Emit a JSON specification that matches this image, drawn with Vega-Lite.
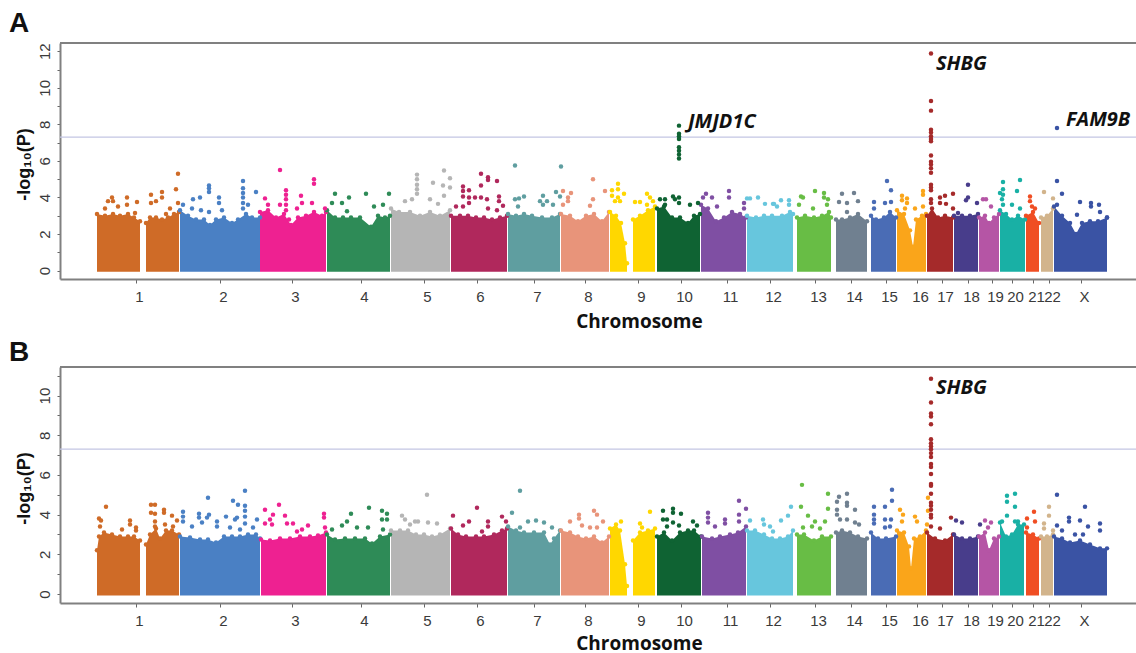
{"$schema":"https://vega.github.io/schema/vega-lite/v6.json","autosize":{"type":"pad"},"padding":{"left":9,"top":10,"right":0,"bottom":0},"background":"white","bounds":"flush","spacing":88,
"config":{"view":{"stroke":null},"font":"Liberation Sans","axis":{"grid":false,"domainColor":"#808080","domainWidth":2,"tickColor":"#666666","labelColor":"#3a3a3a"}},
"datasets":{
"massA":[{"c":"1","x":97,"y":3.1},{"c":"1","x":105,"y":3},{"c":"1","x":113,"y":3.1},{"c":"1","x":120,"y":3},{"c":"1","x":128,"y":3.1},{"c":"1","x":134,"y":2.9},{"c":"1","x":140,"y":2.7},{"c":"1","a":"q","x":146,"y":2.6},{"c":"1","a":"q","x":150,"y":2.9},{"c":"1","a":"q","x":156,"y":2.9},{"c":"1","a":"q","x":162,"y":2.8},{"c":"1","a":"q","x":168,"y":2.9},{"c":"1","a":"q","x":174,"y":3.1},{"c":"1","a":"q","x":179,"y":3.2},
{"c":"2","x":180,"y":3.3},{"c":"2","x":188,"y":3},{"c":"2","x":196,"y":2.8},{"c":"2","x":204,"y":2.8},{"c":"2","x":210,"y":2.5},{"c":"2","x":216,"y":2.8},{"c":"2","x":224,"y":2.9},{"c":"2","x":232,"y":2.6},{"c":"2","x":238,"y":2.8},{"c":"2","x":246,"y":3.1},{"c":"2","x":252,"y":2.9},{"c":"2","x":260,"y":2.9},
{"c":"3","x":260,"y":3.2},{"c":"3","x":268,"y":3.3},{"c":"3","x":276,"y":2.9},{"c":"3","x":284,"y":3.1},{"c":"3","x":291,"y":2.5},{"c":"3","x":298,"y":2.9},{"c":"3","x":306,"y":3},{"c":"3","x":314,"y":3.2},{"c":"3","x":322,"y":3},{"c":"3","x":326,"y":3.2},
{"c":"4","x":327,"y":3.3},{"c":"4","x":335,"y":2.9},{"c":"4","x":343,"y":2.9},{"c":"4","x":351,"y":2.9},{"c":"4","x":360,"y":2.9},{"c":"4","x":371,"y":2.4},{"c":"4","x":378,"y":3},{"c":"4","x":385,"y":2.9},{"c":"4","x":390,"y":3},
{"c":"5","x":391,"y":3.4},{"c":"5","x":399,"y":3.2},{"c":"5","x":410,"y":3.2},{"c":"5","x":420,"y":3},{"c":"5","x":430,"y":3.2},{"c":"5","x":440,"y":3},{"c":"5","x":450,"y":3.3},
{"c":"6","x":451,"y":3},{"c":"6","x":460,"y":3},{"c":"6","x":468,"y":3},{"c":"6","x":476,"y":2.9},{"c":"6","x":484,"y":2.9},{"c":"6","x":492,"y":2.8},{"c":"6","x":500,"y":2.9},{"c":"6","x":507,"y":3},
{"c":"7","x":508,"y":3.1},{"c":"7","x":516,"y":3},{"c":"7","x":524,"y":3.1},{"c":"7","x":532,"y":3},{"c":"7","x":542,"y":2.9},{"c":"7","x":552,"y":2.9},{"c":"7","x":560,"y":3.1},
{"c":"8","x":561,"y":3.1},{"c":"8","x":570,"y":3},{"c":"8","x":578,"y":2.7},{"c":"8","x":586,"y":3},{"c":"8","x":594,"y":3.1},{"c":"8","x":602,"y":2.7},{"c":"8","x":609,"y":3.2},
{"c":"9","x":610,"y":3.2},{"c":"9","x":616,"y":3},{"c":"9","x":621,"y":2.6},{"c":"9","x":625,"y":1.5},{"c":"9","x":627,"y":0.4},{"c":"9","a":"q","x":633,"y":2.8},{"c":"9","a":"q","x":640,"y":3},{"c":"9","a":"q","x":648,"y":3.3},{"c":"9","a":"q","x":655,"y":3.5},
{"c":"10","x":657,"y":3.4},{"c":"10","x":664,"y":3.5},{"c":"10","x":672,"y":2.9},{"c":"10","x":680,"y":2.9},{"c":"10","x":688,"y":2.6},{"c":"10","x":694,"y":3},{"c":"10","x":700,"y":3.1},
{"c":"11","x":701,"y":3.6},{"c":"11","x":708,"y":3.4},{"c":"11","x":716,"y":2.7},{"c":"11","x":724,"y":2.9},{"c":"11","x":732,"y":3.2},{"c":"11","x":740,"y":3.1},{"c":"11","x":746,"y":2.9},
{"c":"12","x":747,"y":3},{"c":"12","x":756,"y":2.9},{"c":"12","x":764,"y":3},{"c":"12","x":772,"y":3},{"c":"12","x":782,"y":3},{"c":"12","x":790,"y":3.2},{"c":"12","x":793,"y":3.1},
{"c":"13","x":797,"y":2.9},{"c":"13","x":805,"y":3},{"c":"13","x":814,"y":2.9},{"c":"13","x":822,"y":3},{"c":"13","x":829,"y":3.2},{"c":"13","x":831,"y":2.9},
{"c":"14","x":836,"y":2.8},{"c":"14","x":842,"y":2.8},{"c":"14","x":850,"y":2.9},{"c":"14","x":858,"y":3.1},{"c":"14","x":867,"y":2.7},
{"c":"15","x":871,"y":3},{"c":"15","x":876,"y":2.8},{"c":"15","x":884,"y":2.9},{"c":"15","x":890,"y":3.2},{"c":"15","x":896,"y":2.9},
{"c":"16","x":897,"y":3.3},{"c":"16","x":904,"y":3.1},{"c":"16","x":910,"y":2.2},{"c":"16","x":913,"y":1.3},{"c":"16","x":916,"y":2.8},{"c":"16","x":922,"y":3},{"c":"16","x":926,"y":3.1},
{"c":"17","x":927,"y":3},{"c":"17","x":932,"y":3.4},{"c":"17","x":938,"y":2.9},{"c":"17","x":945,"y":3},{"c":"17","x":953,"y":2.9},
{"c":"18","x":954,"y":3},{"c":"18","x":962,"y":3},{"c":"18","x":970,"y":3},{"c":"18","x":978,"y":3.1},
{"c":"19","x":979,"y":2.9},{"c":"19","x":985,"y":3},{"c":"19","x":989,"y":2.6},{"c":"19","x":994,"y":2.9},{"c":"19","x":999,"y":3.1},
{"c":"20","x":1000,"y":3.3},{"c":"20","x":1006,"y":3.1},{"c":"20","x":1012,"y":2.8},{"c":"20","x":1018,"y":3},{"c":"20","x":1025,"y":2.8},
{"c":"21","x":1026,"y":3},{"c":"21","x":1033,"y":3.2},{"c":"21","x":1039,"y":2.6},
{"c":"22","x":1041,"y":2.9},{"c":"22","x":1047,"y":3},{"c":"22","x":1053,"y":3.4},
{"c":"X","x":1054,"y":3.5},{"c":"X","x":1062,"y":3},{"c":"X","x":1070,"y":2.6},{"c":"X","x":1076,"y":2},{"c":"X","x":1082,"y":2.6},{"c":"X","x":1090,"y":2.7},{"c":"X","x":1098,"y":2.7},{"c":"X","x":1107,"y":2.9}],
"dotsA":[{"c":"1","x":112,"y":4},{"c":"1","x":108,"y":3.8},{"c":"1","x":113,"y":3.8},{"c":"1","x":105,"y":3.4},{"c":"1","x":118,"y":3.5},{"c":"1","x":127,"y":4},{"c":"1","x":127,"y":3.6},{"c":"1","x":137,"y":3.75},{"c":"1","x":135,"y":3.15},{"c":"1","x":151,"y":4.15},{"c":"1","x":151,"y":3.7},{"c":"1","x":156,"y":3.8},{"c":"1","x":162,"y":4.3},{"c":"1","x":162,"y":4},{"c":"1","x":166,"y":3.1},{"c":"1","x":170,"y":3.4},{"c":"1","x":176,"y":4.45},{"c":"1","x":178,"y":5.3},{"c":"1","x":178,"y":3.7},
{"c":"2","x":183,"y":3.6},{"c":"2","x":193,"y":3.9},{"c":"2","x":200,"y":4},{"c":"2","x":192,"y":3.4},{"c":"2","x":201,"y":3.3},{"c":"2","x":209,"y":4.65},{"c":"2","x":209,"y":4.5},{"c":"2","x":209,"y":4.3},{"c":"2","x":209,"y":3.2},{"c":"2","x":219,"y":4},{"c":"2","x":219,"y":3.7},{"c":"2","x":222,"y":3.3},{"c":"2","x":243,"y":4.9},{"c":"2","x":243,"y":4.5},{"c":"2","x":243,"y":4.25},{"c":"2","x":243,"y":4},{"c":"2","x":243,"y":3.7},{"c":"2","x":243,"y":3.4},{"c":"2","x":248,"y":3.6},{"c":"2","x":256,"y":4.3},
{"c":"3","x":265,"y":3.95},{"c":"3","x":268,"y":3.6},{"c":"3","x":280,"y":5.5},{"c":"3","x":286,"y":4.4},{"c":"3","x":286,"y":4.15},{"c":"3","x":286,"y":3.9},{"c":"3","x":286,"y":3.6},{"c":"3","x":280,"y":3.6},{"c":"3","x":286,"y":3.3},{"c":"3","x":289,"y":2.8},{"c":"3","x":301,"y":4.1},{"c":"3","x":302,"y":3.7},{"c":"3","x":297,"y":3.4},{"c":"3","x":314,"y":5},{"c":"3","x":314,"y":4.75},{"c":"3","x":312,"y":3.7},{"c":"3","x":325,"y":3.4},
{"c":"4","x":335,"y":4.2},{"c":"4","x":332,"y":3.7},{"c":"4","x":342,"y":3.7},{"c":"4","x":349,"y":4},{"c":"4","x":347,"y":3.25},{"c":"4","x":366,"y":4.2},{"c":"4","x":374,"y":3.5},{"c":"4","x":383,"y":3.6},{"c":"4","x":389,"y":4.2},
{"c":"5","x":417,"y":5.25},{"c":"5","x":417,"y":5},{"c":"5","x":417,"y":4.7},{"c":"5","x":417,"y":4.45},{"c":"5","x":417,"y":4.2},{"c":"5","x":444,"y":5.47},{"c":"5","x":450,"y":5.05},{"c":"5","x":433,"y":4.8},{"c":"5","x":443,"y":4.65},{"c":"5","x":450,"y":4.55},{"c":"5","x":444,"y":4.1},{"c":"5","x":438,"y":3.65},{"c":"5","x":430,"y":3.9},{"c":"5","x":405,"y":3.8},{"c":"5","x":412,"y":3.9},
{"c":"6","x":481,"y":5.3},{"c":"6","x":488,"y":5.1},{"c":"6","x":488,"y":4.95},{"c":"6","x":497,"y":4.9},{"c":"6","x":463,"y":4.6},{"c":"6","x":463,"y":4.35},{"c":"6","x":463,"y":4.05},{"c":"6","x":481,"y":4.65},{"c":"6","x":469,"y":4.4},{"c":"6","x":469,"y":4},{"c":"6","x":475,"y":4},{"c":"6","x":481,"y":4},{"c":"6","x":487,"y":3.9},{"c":"6","x":499,"y":4.05},{"c":"6","x":499,"y":3.8},{"c":"6","x":469,"y":3.7},{"c":"6","x":456,"y":3.5},{"c":"6","x":463,"y":3.5},{"c":"6","x":488,"y":3.4},{"c":"6","x":503,"y":3.55},{"c":"6","x":497,"y":3.3},
{"c":"7","x":515,"y":5.75},{"c":"7","x":561,"y":5.7},{"c":"7","x":519,"y":3.95},{"c":"7","x":524,"y":4.05},{"c":"7","x":515,"y":3.9},{"c":"7","x":543,"y":4.1},{"c":"7","x":540,"y":3.8},{"c":"7","x":547,"y":3.8},{"c":"7","x":556,"y":4.3},{"c":"7","x":560,"y":4.05},{"c":"7","x":543,"y":3.6},{"c":"7","x":553,"y":3.6},{"c":"7","x":518,"y":3.5},
{"c":"8","x":593,"y":5},{"c":"8","x":563,"y":4.35},{"c":"8","x":571,"y":4.25},{"c":"8","x":568,"y":4},{"c":"8","x":568,"y":3.8},{"c":"8","x":605,"y":4.35},{"c":"8","x":593,"y":3.9},{"c":"8","x":563,"y":3.6},{"c":"8","x":590,"y":3.55},
{"c":"9","x":618,"y":4.75},{"c":"9","x":612,"y":4.4},{"c":"9","x":618,"y":4.45},{"c":"9","x":624,"y":4.2},{"c":"9","x":612,"y":4.1},{"c":"9","x":618,"y":4},{"c":"9","x":615,"y":3.8},{"c":"9","x":620,"y":3.8},{"c":"9","x":635,"y":3.75},{"c":"9","x":640,"y":3.75},{"c":"9","x":647,"y":4.2},{"c":"9","x":650,"y":4},{"c":"9","x":647,"y":3.6},{"c":"9","x":653,"y":3.8},
{"c":"10","x":679,"y":7.93},{"c":"10","x":679,"y":7.48},{"c":"10","x":679,"y":7.35},{"c":"10","x":679,"y":7.2},{"c":"10","x":679,"y":6.75},{"c":"10","x":679,"y":6.55},{"c":"10","x":679,"y":6.35},{"c":"10","x":679,"y":6.13},{"c":"10","x":665,"y":3.9},{"c":"10","x":673,"y":4.05},{"c":"10","x":679,"y":4},{"c":"10","x":660,"y":3.9},{"c":"10","x":665,"y":3.6},{"c":"10","x":675,"y":3.9},{"c":"10","x":679,"y":3.7},{"c":"10","x":690,"y":3.6},{"c":"10","x":698,"y":3.7},
{"c":"11","x":703,"y":4},{"c":"11","x":706,"y":4.2},{"c":"11","x":712,"y":4},{"c":"11","x":729,"y":4.35},{"c":"11","x":729,"y":4},{"c":"11","x":744,"y":3.7},{"c":"11","x":744,"y":3.4},{"c":"11","x":717,"y":3.5},
{"c":"12","x":747,"y":3.95},{"c":"12","x":758,"y":4},{"c":"12","x":750,"y":3.95},{"c":"12","x":765,"y":3.65},{"c":"12","x":773,"y":3.65},{"c":"12","x":774,"y":3.65},{"c":"12","x":781,"y":3.85},{"c":"12","x":789,"y":3.85},{"c":"12","x":777,"y":3.5},{"c":"12","x":789,"y":3.6},
{"c":"13","x":801,"y":4.05},{"c":"13","x":803,"y":4},{"c":"13","x":815,"y":4.35},{"c":"13","x":824,"y":4.25},{"c":"13","x":824,"y":4},{"c":"13","x":828,"y":3.9},{"c":"13","x":799,"y":3.6},{"c":"13","x":813,"y":3.4},{"c":"13","x":827,"y":3.6},
{"c":"14","x":842,"y":4.2},{"c":"14","x":854,"y":4.25},{"c":"14","x":839,"y":3.75},{"c":"14","x":847,"y":3.7},{"c":"14","x":858,"y":3.8},{"c":"14","x":847,"y":3.2},
{"c":"15","x":887,"y":4.9},{"c":"15","x":891,"y":4.4},{"c":"15","x":885,"y":3.7},{"c":"15","x":891,"y":3.75},{"c":"15","x":874,"y":3.75},{"c":"15","x":874,"y":3.4},
{"c":"16","x":902,"y":4.1},{"c":"16","x":923,"y":4.35},{"c":"16","x":923,"y":4.15},{"c":"16","x":902,"y":3.85},{"c":"16","x":907,"y":3.95},{"c":"16","x":907,"y":3.7},{"c":"16","x":905,"y":3.4},{"c":"16","x":915,"y":3.4},{"c":"16","x":923,"y":3.5},
{"c":"17","x":931,"y":11.87},{"c":"17","x":931,"y":9.28},{"c":"17","x":931,"y":8.75},{"c":"17","x":931,"y":7.7},{"c":"17","x":931,"y":7.55},{"c":"17","x":931,"y":7.35},{"c":"17","x":931,"y":7.2},{"c":"17","x":931,"y":7.07},{"c":"17","x":931,"y":6.3},{"c":"17","x":931,"y":5.95},{"c":"17","x":931,"y":5.8},{"c":"17","x":931,"y":5.6},{"c":"17","x":931,"y":5.35},{"c":"17","x":931,"y":4.7},{"c":"17","x":931,"y":4.55},{"c":"17","x":931,"y":4.4},{"c":"17","x":931,"y":3.9},{"c":"17","x":931,"y":3.7},{"c":"17","x":945,"y":4.1},{"c":"17","x":953,"y":4.2},{"c":"17","x":940,"y":4},{"c":"17","x":940,"y":3.7},{"c":"17","x":946,"y":3.65},{"c":"17","x":953,"y":3.4},
{"c":"18","x":968,"y":4.7},{"c":"18","x":968,"y":4},{"c":"18","x":966,"y":3.85},{"c":"18","x":977,"y":3.7},{"c":"18","x":958,"y":3.15},
{"c":"19","x":983,"y":3.9},{"c":"19","x":986,"y":3.9},{"c":"19","x":991,"y":3.5},
{"c":"20","x":1003,"y":4.85},{"c":"20","x":1020,"y":4.95},{"c":"20","x":1017,"y":4.35},{"c":"20","x":1003,"y":4.45},{"c":"20","x":1000,"y":4.25},{"c":"20","x":1003,"y":4.15},{"c":"20","x":1002,"y":3.9},{"c":"20","x":1003,"y":3.6},{"c":"20","x":1012,"y":3.6},{"c":"20","x":1020,"y":3.4},
{"c":"21","x":1030,"y":4.05},{"c":"21","x":1030,"y":3.8},{"c":"21","x":1032,"y":3.5},{"c":"21","x":1035,"y":3.4},
{"c":"22","x":1044,"y":4.3},{"c":"22","x":1053,"y":3.95},
{"c":"X","x":1057,"y":7.8},{"c":"X","x":1057,"y":4.9},{"c":"X","x":1062,"y":4.2},{"c":"X","x":1080,"y":3.75},{"c":"X","x":1091,"y":3.7},{"c":"X","x":1091,"y":3.5},{"c":"X","x":1099,"y":3.6},{"c":"X","x":1100,"y":3.2},{"c":"X","x":1057,"y":3.6},{"c":"X","x":1077,"y":3.05},{"c":"X","x":1107,"y":2.9}],
"massB":[{"c":"1","x":97,"y":2.2},{"c":"1","x":99,"y":2.9},{"c":"1","x":104,"y":3.1},{"c":"1","x":112,"y":3},{"c":"1","x":120,"y":2.9},{"c":"1","x":128,"y":2.9},{"c":"1","x":134,"y":2.9},{"c":"1","x":140,"y":2.7},{"c":"1","a":"q","x":146,"y":2.5},{"c":"1","a":"q","x":150,"y":3},{"c":"1","a":"q","x":156,"y":3.3},{"c":"1","a":"q","x":160,"y":2.8},{"c":"1","a":"q","x":166,"y":3.2},{"c":"1","a":"q","x":172,"y":3.2},{"c":"1","a":"q","x":179,"y":3},
{"c":"2","x":180,"y":2.9},{"c":"2","x":190,"y":2.85},{"c":"2","x":200,"y":2.75},{"c":"2","x":208,"y":2.75},{"c":"2","x":216,"y":2.6},{"c":"2","x":224,"y":2.9},{"c":"2","x":232,"y":2.9},{"c":"2","x":240,"y":2.9},{"c":"2","x":248,"y":3},{"c":"2","x":256,"y":3},{"c":"2","x":260,"y":2.8},
{"c":"3","x":261,"y":2.75},{"c":"3","x":270,"y":2.7},{"c":"3","x":280,"y":2.8},{"c":"3","x":290,"y":2.8},{"c":"3","x":300,"y":2.9},{"c":"3","x":310,"y":2.9},{"c":"3","x":318,"y":2.95},{"c":"3","x":326,"y":3.1},
{"c":"4","x":327,"y":3},{"c":"4","x":335,"y":2.75},{"c":"4","x":345,"y":2.8},{"c":"4","x":355,"y":2.8},{"c":"4","x":365,"y":2.8},{"c":"4","x":372,"y":2.55},{"c":"4","x":380,"y":2.9},{"c":"4","x":390,"y":3},
{"c":"5","x":391,"y":3.2},{"c":"5","x":400,"y":3.2},{"c":"5","x":408,"y":3.2},{"c":"5","x":416,"y":3},{"c":"5","x":424,"y":3},{"c":"5","x":432,"y":2.9},{"c":"5","x":440,"y":3},{"c":"5","x":450,"y":3.3},
{"c":"6","x":451,"y":3.3},{"c":"6","x":458,"y":3},{"c":"6","x":466,"y":2.9},{"c":"6","x":476,"y":2.9},{"c":"6","x":484,"y":2.9},{"c":"6","x":494,"y":3},{"c":"6","x":502,"y":3.2},{"c":"6","x":507,"y":3.3},
{"c":"7","x":508,"y":3.4},{"c":"7","x":516,"y":3.2},{"c":"7","x":524,"y":3.1},{"c":"7","x":534,"y":3.1},{"c":"7","x":544,"y":3.1},{"c":"7","x":550,"y":2.5},{"c":"7","x":554,"y":2.8},{"c":"7","x":560,"y":3.2},
{"c":"8","x":561,"y":3.2},{"c":"8","x":570,"y":3.1},{"c":"8","x":578,"y":2.9},{"c":"8","x":586,"y":2.8},{"c":"8","x":594,"y":2.9},{"c":"8","x":602,"y":2.6},{"c":"8","x":609,"y":2.9},
{"c":"9","x":610,"y":3.3},{"c":"9","x":616,"y":3.5},{"c":"9","x":620,"y":3.2},{"c":"9","x":625,"y":1.5},{"c":"9","x":627,"y":0.4},{"c":"9","a":"q","x":633,"y":2.7},{"c":"9","a":"q","x":640,"y":3.1},{"c":"9","a":"q","x":648,"y":3.2},{"c":"9","a":"q","x":655,"y":3.3},
{"c":"10","x":657,"y":2.9},{"c":"10","x":664,"y":3.1},{"c":"10","x":672,"y":2.7},{"c":"10","x":680,"y":3.1},{"c":"10","x":688,"y":3.2},{"c":"10","x":694,"y":3.2},{"c":"10","x":701,"y":2.9},
{"c":"11","x":702,"y":2.9},{"c":"11","x":712,"y":2.8},{"c":"11","x":720,"y":2.9},{"c":"11","x":730,"y":3},{"c":"11","x":738,"y":3.1},{"c":"11","x":746,"y":3.4},
{"c":"12","x":747,"y":3.2},{"c":"12","x":755,"y":3.2},{"c":"12","x":764,"y":3},{"c":"12","x":772,"y":2.8},{"c":"12","x":780,"y":2.8},{"c":"12","x":788,"y":2.9},{"c":"12","x":793,"y":3.2},
{"c":"13","x":797,"y":3},{"c":"13","x":804,"y":3},{"c":"13","x":814,"y":2.7},{"c":"13","x":822,"y":2.9},{"c":"13","x":831,"y":2.9},
{"c":"14","x":836,"y":3.1},{"c":"14","x":842,"y":3.2},{"c":"14","x":850,"y":3.1},{"c":"14","x":858,"y":2.9},{"c":"14","x":867,"y":2.8},
{"c":"15","x":871,"y":3.1},{"c":"15","x":878,"y":2.8},{"c":"15","x":886,"y":2.8},{"c":"15","x":896,"y":2.9},
{"c":"16","x":897,"y":3.2},{"c":"16","x":904,"y":3.1},{"c":"16","x":909,"y":2.4},{"c":"16","x":911,"y":1.3},{"c":"16","x":914,"y":2.8},{"c":"16","x":920,"y":2.9},{"c":"16","x":926,"y":3.2},
{"c":"17","x":927,"y":3.1},{"c":"17","x":935,"y":2.8},{"c":"17","x":945,"y":2.7},{"c":"17","x":953,"y":3},
{"c":"18","x":954,"y":3},{"c":"18","x":962,"y":2.8},{"c":"18","x":970,"y":2.8},{"c":"18","x":978,"y":2.9},
{"c":"19","x":979,"y":2.9},{"c":"19","x":985,"y":3.1},{"c":"19","x":989,"y":2.2},{"c":"19","x":994,"y":2.8},{"c":"19","x":999,"y":2.9},
{"c":"20","x":1000,"y":3.6},{"c":"20","x":1006,"y":2.9},{"c":"20","x":1012,"y":3},{"c":"20","x":1018,"y":3.5},{"c":"20","x":1024,"y":3.5},
{"c":"21","x":1026,"y":3.1},{"c":"21","x":1033,"y":3},{"c":"21","x":1039,"y":2.8},
{"c":"22","x":1041,"y":2.9},{"c":"22","x":1047,"y":2.9},{"c":"22","x":1053,"y":3},
{"c":"X","x":1054,"y":2.9},{"c":"X","x":1062,"y":2.8},{"c":"X","x":1070,"y":2.6},{"c":"X","x":1080,"y":2.7},{"c":"X","x":1090,"y":2.5},{"c":"X","x":1100,"y":2.3},{"c":"X","x":1107,"y":2.3}],
"dotsB":[{"c":"1","x":106,"y":4.4},{"c":"1","x":99,"y":3.8},{"c":"1","x":101,"y":3.7},{"c":"1","x":100,"y":3.4},{"c":"1","x":122,"y":3.25},{"c":"1","x":130,"y":3.7},{"c":"1","x":130,"y":3.5},{"c":"1","x":136,"y":3.35},{"c":"1","x":136,"y":3.2},{"c":"1","x":151,"y":4.5},{"c":"1","x":155,"y":4.5},{"c":"1","x":151,"y":4.1},{"c":"1","x":155,"y":4.05},{"c":"1","x":164,"y":4.25},{"c":"1","x":164,"y":4.1},{"c":"1","x":155,"y":3.65},{"c":"1","x":155,"y":3.4},{"c":"1","x":172,"y":3.95},{"c":"1","x":177,"y":3.7},{"c":"1","x":165,"y":3.5},{"c":"1","x":173,"y":3.4},
{"c":"2","x":183,"y":4.15},{"c":"2","x":183,"y":3.9},{"c":"2","x":183,"y":3.65},{"c":"2","x":192,"y":3.4},{"c":"2","x":199,"y":4.05},{"c":"2","x":199,"y":3.85},{"c":"2","x":202,"y":3.6},{"c":"2","x":208,"y":4.85},{"c":"2","x":209,"y":4},{"c":"2","x":207,"y":3.85},{"c":"2","x":217,"y":3.65},{"c":"2","x":217,"y":3.4},{"c":"2","x":226,"y":3.9},{"c":"2","x":233,"y":4.7},{"c":"2","x":238,"y":4.5},{"c":"2","x":245,"y":5.2},{"c":"2","x":245,"y":4.45},{"c":"2","x":245,"y":4.2},{"c":"2","x":245,"y":3.9},{"c":"2","x":245,"y":3.55},{"c":"2","x":235,"y":3.75},{"c":"2","x":237,"y":3.85},{"c":"2","x":257,"y":3.75},{"c":"2","x":253,"y":3.35},{"c":"2","x":230,"y":3.35},{"c":"2","x":240,"y":3.25},
{"c":"3","x":265,"y":4.25},{"c":"3","x":279,"y":4.5},{"c":"3","x":273,"y":4},{"c":"3","x":285,"y":3.95},{"c":"3","x":324,"y":4.05},{"c":"3","x":324,"y":3.85},{"c":"3","x":265,"y":3.55},{"c":"3","x":270,"y":3.75},{"c":"3","x":272,"y":3.5},{"c":"3","x":287,"y":3.55},{"c":"3","x":293,"y":3.55},{"c":"3","x":308,"y":3.45},{"c":"3","x":302,"y":3.25},{"c":"3","x":297,"y":3.15},{"c":"3","x":325,"y":3.35},
{"c":"4","x":351,"y":4.05},{"c":"4","x":369,"y":4.35},{"c":"4","x":382,"y":4.2},{"c":"4","x":387,"y":4.05},{"c":"4","x":382,"y":3.75},{"c":"4","x":387,"y":3.75},{"c":"4","x":347,"y":3.65},{"c":"4","x":342,"y":3.45},{"c":"4","x":357,"y":3.35},{"c":"4","x":368,"y":3.35},{"c":"4","x":332,"y":3.25},{"c":"4","x":383,"y":3.25},
{"c":"5","x":427,"y":5},{"c":"5","x":402,"y":3.95},{"c":"5","x":405,"y":3.75},{"c":"5","x":428,"y":3.6},{"c":"5","x":437,"y":3.55},{"c":"5","x":415,"y":3.65},{"c":"5","x":418,"y":3.65},{"c":"5","x":410,"y":3.5},
{"c":"6","x":477,"y":4.35},{"c":"6","x":453,"y":3.95},{"c":"6","x":502,"y":3.9},{"c":"6","x":469,"y":3.65},{"c":"6","x":463,"y":3.45},{"c":"6","x":488,"y":3.65},{"c":"6","x":488,"y":3.4},{"c":"6","x":506,"y":3.65},{"c":"6","x":482,"y":3.15},
{"c":"7","x":520,"y":5.2},{"c":"7","x":512,"y":4.1},{"c":"7","x":528,"y":3.65},{"c":"7","x":536,"y":3.7},{"c":"7","x":544,"y":3.6},{"c":"7","x":552,"y":3.35},{"c":"7","x":520,"y":3.35},
{"c":"8","x":594,"y":4.2},{"c":"8","x":579,"y":4},{"c":"8","x":597,"y":4},{"c":"8","x":579,"y":3.8},{"c":"8","x":570,"y":3.65},{"c":"8","x":603,"y":3.65},{"c":"8","x":582,"y":3.45},{"c":"8","x":597,"y":3.35},{"c":"8","x":590,"y":3.35},
{"c":"9","x":621,"y":3.65},{"c":"9","x":650,"y":4.15},{"c":"9","x":640,"y":3.55},{"c":"9","x":642,"y":3.35},
{"c":"10","x":663,"y":4.2},{"c":"10","x":673,"y":4.3},{"c":"10","x":673,"y":4.1},{"c":"10","x":681,"y":4.05},{"c":"10","x":663,"y":3.75},{"c":"10","x":667,"y":3.75},{"c":"10","x":673,"y":3.6},{"c":"10","x":693,"y":3.65},{"c":"10","x":679,"y":3.45},{"c":"10","x":697,"y":3.45},{"c":"10","x":667,"y":3.4},
{"c":"11","x":739,"y":4.7},{"c":"11","x":746,"y":4.3},{"c":"11","x":739,"y":4},{"c":"11","x":708,"y":4.1},{"c":"11","x":708,"y":3.85},{"c":"11","x":708,"y":3.6},{"c":"11","x":725,"y":3.75},{"c":"11","x":725,"y":3.55},{"c":"11","x":739,"y":3.65},{"c":"11","x":715,"y":3.4},
{"c":"12","x":750,"y":3.7},{"c":"12","x":763,"y":3.75},{"c":"12","x":791,"y":4.4},{"c":"12","x":788,"y":3.95},{"c":"12","x":781,"y":3.7},{"c":"12","x":764,"y":3.5},{"c":"12","x":770,"y":3.4},{"c":"12","x":773,"y":3.15},
{"c":"13","x":802,"y":5.5},{"c":"13","x":828,"y":5.05},{"c":"13","x":801,"y":4.4},{"c":"13","x":828,"y":4.3},{"c":"13","x":808,"y":3.95},{"c":"13","x":815,"y":3.65},{"c":"13","x":825,"y":3.65},{"c":"13","x":803,"y":3.35},{"c":"13","x":812,"y":3.4},{"c":"13","x":820,"y":3.3},
{"c":"14","x":839,"y":4.9},{"c":"14","x":847,"y":5.05},{"c":"14","x":837,"y":4.65},{"c":"14","x":847,"y":4.6},{"c":"14","x":847,"y":4.45},{"c":"14","x":837,"y":4.25},{"c":"14","x":855,"y":4.25},{"c":"14","x":837,"y":4},{"c":"14","x":840,"y":3.75},{"c":"14","x":847,"y":3.75},{"c":"14","x":855,"y":3.6},{"c":"14","x":859,"y":3.5},
{"c":"15","x":892,"y":5.25},{"c":"15","x":892,"y":4.7},{"c":"15","x":874,"y":4.4},{"c":"15","x":885,"y":4.4},{"c":"15","x":874,"y":4},{"c":"15","x":874,"y":3.75},{"c":"15","x":885,"y":3.75},{"c":"15","x":891,"y":3.75},{"c":"15","x":874,"y":3.55},{"c":"15","x":885,"y":3.35},{"c":"15","x":890,"y":3.4},
{"c":"16","x":900,"y":4.25},{"c":"16","x":903,"y":4},{"c":"16","x":902,"y":3.65},{"c":"16","x":915,"y":3.9},{"c":"16","x":917,"y":3.65},{"c":"16","x":928,"y":4.2},{"c":"16","x":928,"y":4.85},{"c":"16","x":927,"y":3.5},
{"c":"17","x":931,"y":10.85},{"c":"17","x":931,"y":9.65},{"c":"17","x":931,"y":9.1},{"c":"17","x":931,"y":8.95},{"c":"17","x":931,"y":8.55},{"c":"17","x":931,"y":7.8},{"c":"17","x":931,"y":7.6},{"c":"17","x":931,"y":7.45},{"c":"17","x":931,"y":7.3},{"c":"17","x":931,"y":7.1},{"c":"17","x":931,"y":6.9},{"c":"17","x":931,"y":6.55},{"c":"17","x":931,"y":6.4},{"c":"17","x":931,"y":6.05},{"c":"17","x":931,"y":5.55},{"c":"17","x":931,"y":5.45},{"c":"17","x":931,"y":5.05},{"c":"17","x":931,"y":4.6},{"c":"17","x":931,"y":4.45},{"c":"17","x":931,"y":4.25},{"c":"17","x":931,"y":4},{"c":"17","x":931,"y":3.85},{"c":"17","x":931,"y":3.4},{"c":"17","x":951,"y":3.85},{"c":"17","x":940,"y":3.3},
{"c":"18","x":956,"y":3.7},{"c":"18","x":962,"y":3.6},{"c":"18","x":980,"y":3.5},
{"c":"19","x":985,"y":3.7},{"c":"19","x":991,"y":3.6},{"c":"19","x":988,"y":3.35},
{"c":"20","x":1015,"y":5.05},{"c":"20","x":1007,"y":4.95},{"c":"20","x":1007,"y":4.65},{"c":"20","x":1015,"y":4.4},{"c":"20","x":1007,"y":3.95},{"c":"20","x":1002,"y":3.65},{"c":"20","x":1018,"y":3.65},{"c":"20","x":1015,"y":3.65},
{"c":"21","x":1034,"y":4.15},{"c":"21","x":1027,"y":3.8},{"c":"21","x":1035,"y":3.65},{"c":"21","x":1027,"y":3.35},
{"c":"22","x":1049,"y":4.4},{"c":"22","x":1049,"y":3.95},{"c":"22","x":1044,"y":3.55},{"c":"22","x":1044,"y":3.3},{"c":"22","x":1053,"y":3.2},
{"c":"X","x":1057,"y":5},{"c":"X","x":1085,"y":4.4},{"c":"X","x":1069,"y":3.85},{"c":"X","x":1080,"y":3.7},{"c":"X","x":1069,"y":3.65},{"c":"X","x":1057,"y":3.45},{"c":"X","x":1088,"y":3.4},{"c":"X","x":1100,"y":3.55},{"c":"X","x":1083,"y":3},{"c":"X","x":1100,"y":3.2},{"c":"X","x":1075,"y":3},{"c":"X","x":1062,"y":3.2}],
"genesA":[{"g":"JMJD1C","x":688,"y":7.8},{"g":"SHBG","x":936,"y":10.95},{"g":"FAM9B","x":1066,"y":7.9}],
"genesB":[{"g":"SHBG","x":936,"y":10.07}]},
"vconcat":[
{"width":1076,"height":236,
"title":{"text":"A","anchor":"start","dx":-6,"offset":4,"fontSize":28,"fontWeight":"bold","font":"Liberation Sans","color":"#111111"},
"encoding":{
"x":{"field":"x","type":"quantitative","scale":{"domain":[60,1136],"nice":false,"zero":false},
"axis":{"title":"Chromosome","titleFont":"Open Sans","titleFontSize":19,"titleFontWeight":"bold","titleColor":"#111111","titleX":579,"titleY":48,"titleAlign":"center","titleBaseline":"alphabetic",
"values":[136,220,292,361,424,477,534,585,638,681,727,770,815,851,886,917,942,968,992,1012,1033,1049,1081],
"labelExpr":"['1','2','3','4','5','6','7','8','9','10','11','12','13','14','15','16','17','18','19','20','21','22','X'][indexof([136,220,292,361,424,477,534,585,638,681,727,770,815,851,886,917,942,968,992,1012,1033,1049,1081],datum.value)]",
"labelOverlap":false,"labelBound":false,"labelFlush":false,"labelOffset":3,"labelFontSize":15,"labelPadding":6,"tickSize":4}},
"y":{"field":"y","type":"quantitative","scale":{"domain":[-0.46,12.45],"nice":false,"zero":false},
"axis":{"title":"-log₁₀(P)","titleFontSize":18,"titleFontWeight":"bold","titleColor":"#111111","titleX":-31,"titleY":121,"titleAngle":-90,"titleAlign":"center","titleBaseline":"alphabetic",
"values":[0,1,2,3,4,5,6,7,8,9,10,11,12],"labelExpr":"datum.value%2==0?datum.label:''","labelAngle":-90,"labelAlign":"center","labelBaseline":"bottom","labelFontSize":15,"labelPadding":5,"tickSize":3,"labelOverlap":false,"labelBound":false,"labelFlush":false}},
"color":{"field":"c","type":"nominal","legend":null,"scale":{"domain":["1","2","3","4","5","6","7","8","9","10","11","12","13","14","15","16","17","18","19","20","21","22","X"],"range":["#CF6B27","#4A80C4","#EE2191","#2E8B57","#B5B5B5","#B0285C","#5F9EA0","#E8947A","#FFD700","#0F6333","#7F4FA3","#67C6DD","#68BD45","#708090","#4A6CB5","#FAA51A","#A52A2A","#483D8B","#B555A5","#19B0A5","#F04E23","#D2B48C","#3A53A4"]}}},
"layer":[
{"data":{"name":"massA"},"mark":{"type":"area","opacity":1},"encoding":{"detail":{"field":"a"},"y2":{"datum":-0.07}}},
{"data":{"name":"massA"},"mark":{"type":"point","filled":true,"size":20,"opacity":1,"shape":"circle"}},
{"data":{"values":[{"t":7.3}]},"mark":{"type":"rule","color":"#c3c6e3","strokeWidth":1.2},"encoding":{"x":{},"color":{},"y":{"field":"t","type":"quantitative"}}},
{"data":{"name":"dotsA"},"mark":{"type":"point","filled":true,"size":20,"opacity":1,"shape":"circle"}},
{"data":{"values":[{"t":12.45}]},"mark":{"type":"rule","color":"#808080","strokeWidth":2,"clip":false},"encoding":{"x":{},"color":{},"y":{"field":"t","type":"quantitative"}}},
{"data":{"name":"genesA"},"mark":{"type":"text","align":"left","baseline":"alphabetic","font":"Open Sans","fontSize":20,"fontWeight":"bold","fontStyle":"italic","color":"#111111"},"encoding":{"color":{},"text":{"field":"g"}}}
]},
{"width":1076,"height":236,
"title":{"text":"B","anchor":"start","dx":-6,"offset":-1,"fontSize":28,"fontWeight":"bold","font":"Liberation Sans","color":"#111111"},
"encoding":{
"x":{"field":"x","type":"quantitative","scale":{"domain":[60,1136],"nice":false,"zero":false},
"axis":{"title":"Chromosome","titleFont":"Open Sans","titleFontSize":19,"titleFontWeight":"bold","titleColor":"#111111","titleX":579,"titleY":46,"titleAlign":"center","titleBaseline":"alphabetic",
"values":[136,220,292,361,424,477,534,585,638,681,727,770,815,851,886,917,942,968,992,1012,1033,1049,1081],
"labelExpr":"['1','2','3','4','5','6','7','8','9','10','11','12','13','14','15','16','17','18','19','20','21','22','X'][indexof([136,220,292,361,424,477,534,585,638,681,727,770,815,851,886,917,942,968,992,1012,1033,1049,1081],datum.value)]",
"labelOverlap":false,"labelBound":false,"labelFlush":false,"labelOffset":3,"labelFontSize":15,"labelPadding":6,"tickSize":4}},
"y":{"field":"y","type":"quantitative","scale":{"domain":[-0.453,11.44],"nice":false,"zero":false},
"axis":{"title":"-log₁₀(P)","titleFontSize":18,"titleFontWeight":"bold","titleColor":"#111111","titleX":-31,"titleY":121,"titleAngle":-90,"titleAlign":"center","titleBaseline":"alphabetic",
"values":[0,1,2,3,4,5,6,7,8,9,10,11],"labelExpr":"datum.value%2==0?datum.label:''","labelAngle":-90,"labelAlign":"center","labelBaseline":"bottom","labelFontSize":15,"labelPadding":5,"tickSize":3,"labelOverlap":false,"labelBound":false,"labelFlush":false}},
"color":{"field":"c","type":"nominal","legend":null,"scale":{"domain":["1","2","3","4","5","6","7","8","9","10","11","12","13","14","15","16","17","18","19","20","21","22","X"],"range":["#CF6B27","#4A80C4","#EE2191","#2E8B57","#B5B5B5","#B0285C","#5F9EA0","#E8947A","#FFD700","#0F6333","#7F4FA3","#67C6DD","#68BD45","#708090","#4A6CB5","#FAA51A","#A52A2A","#483D8B","#B555A5","#19B0A5","#F04E23","#D2B48C","#3A53A4"]}}},
"layer":[
{"data":{"name":"massB"},"mark":{"type":"area","opacity":1},"encoding":{"detail":{"field":"a"},"y2":{"datum":-0.07}}},
{"data":{"name":"massB"},"mark":{"type":"point","filled":true,"size":20,"opacity":1,"shape":"circle"}},
{"data":{"values":[{"t":7.3}]},"mark":{"type":"rule","color":"#c3c6e3","strokeWidth":1.2},"encoding":{"x":{},"color":{},"y":{"field":"t","type":"quantitative"}}},
{"data":{"name":"dotsB"},"mark":{"type":"point","filled":true,"size":20,"opacity":1,"shape":"circle"}},
{"data":{"values":[{"t":11.44}]},"mark":{"type":"rule","color":"#808080","strokeWidth":2,"clip":false},"encoding":{"x":{},"color":{},"y":{"field":"t","type":"quantitative"}}},
{"data":{"name":"genesB"},"mark":{"type":"text","align":"left","baseline":"alphabetic","font":"Open Sans","fontSize":20,"fontWeight":"bold","fontStyle":"italic","color":"#111111"},"encoding":{"color":{},"text":{"field":"g"}}}
]}
],
"resolve":{"scale":{"color":"shared"}}}
